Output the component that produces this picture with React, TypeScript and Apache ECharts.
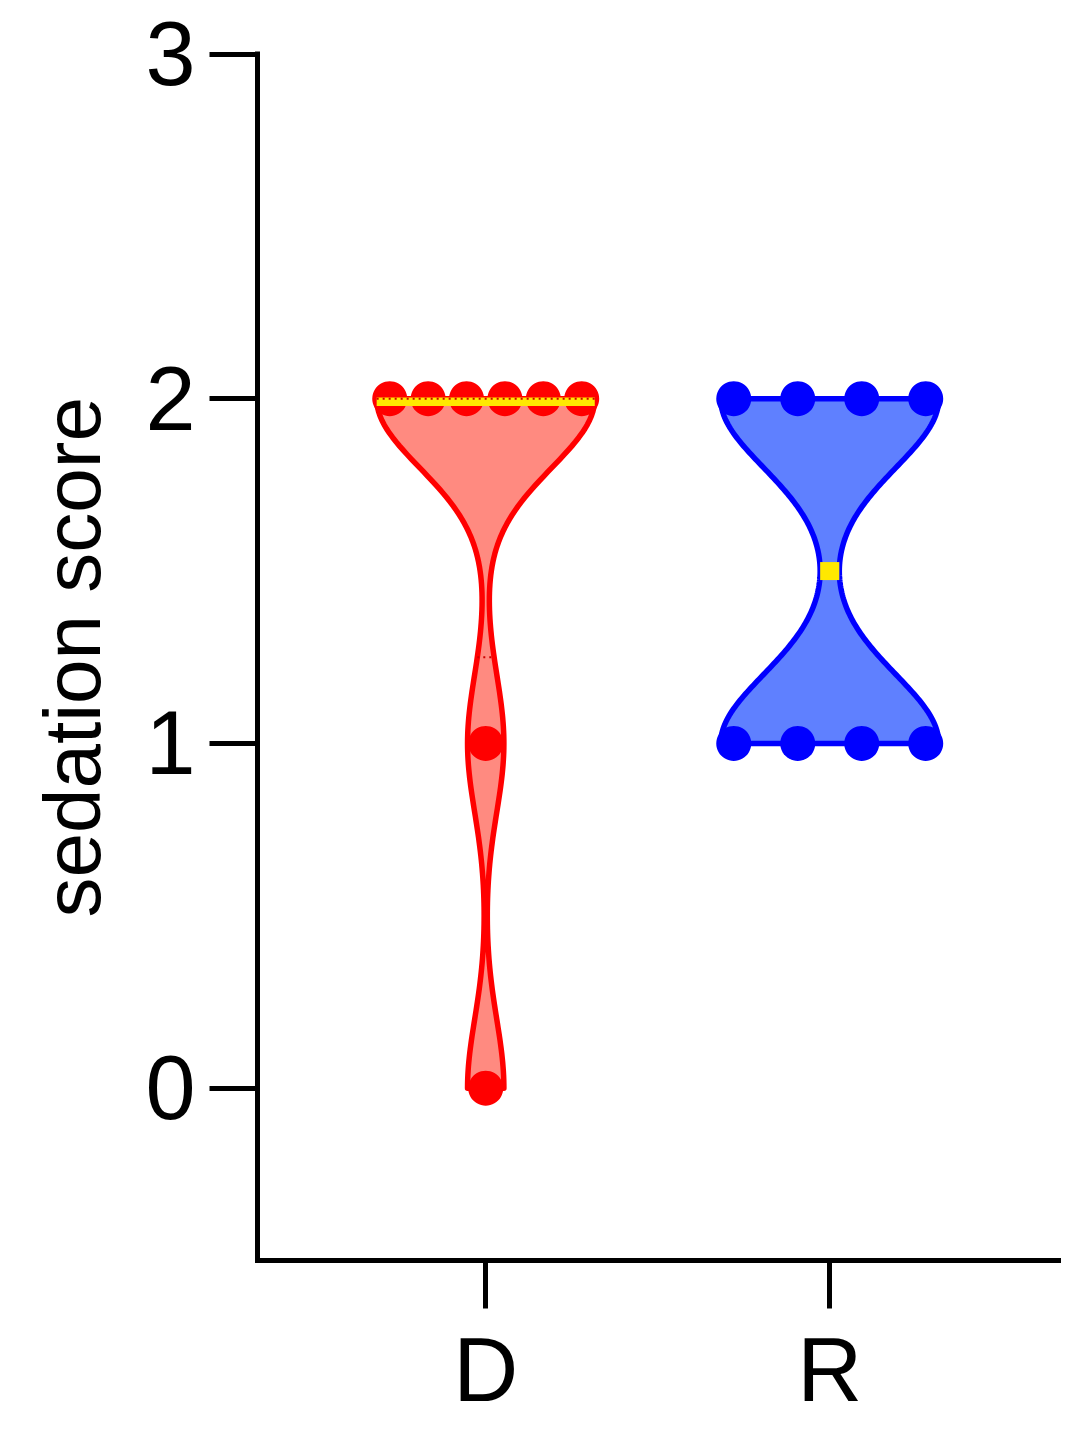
import React, { useEffect, useRef } from 'react';
import * as echarts from 'echarts';

// ---- data ----
const categories = ['D', 'R'];
const dScores = [2, 2, 2, 2, 2, 2, 1, 0];
const rScores = [2, 2, 2, 2, 1, 1, 1, 1];
const yTickValues = [0, 1, 2, 3];
const xTickValues = [0, 1];
const yAxisTitle = 'sedation score';

// ---- styling / layout ----
const groupStyles = [
  { line: '#FF0000', fill: '#FF8A80', quart: '#CC0000', point: '#FF0000', medianH: 8.5, medianShift: 3 },
  { line: '#0000FF', fill: '#5F80FF', quart: '#0000FF', point: '#0000FF', medianH: 18, medianShift: 0 },
];
const BANDWIDTH = 0.2;
const HALF_WIDTH = 0.317; // max violin half-width in x units
const SPREAD = 0.558; // scatter spread in x units
const FONT = 'Liberation Sans, Arial, Helvetica, sans-serif';

const groupValues = [dScores, rScores];

function density(values: number[], y: number): number {
  let s = 0;
  for (const v of values) s += Math.exp(-((y - v) * (y - v)) / (2 * BANDWIDTH * BANDWIDTH));
  return s;
}

function makeProfile(values: number[]) {
  const lo = Math.min(...values);
  const hi = Math.max(...values);
  const steps = 160;
  const ys: number[] = [];
  for (let i = 0; i <= steps; i++) ys.push(lo + ((hi - lo) * i) / steps);
  const ds = ys.map((y) => density(values, y));
  const maxD = Math.max(...ds);
  return { maxD, pts: ys.map((y, i) => [y, (ds[i] / maxD) * HALF_WIDTH]) };
}

function quantile(values: number[], p: number): number {
  const s = [...values].sort((a, b) => a - b);
  const pos = p * (s.length + 1);
  const lo = Math.floor(pos);
  const frac = pos - lo;
  const a = s[Math.max(0, Math.min(s.length - 1, lo - 1))];
  const b = s[Math.max(0, Math.min(s.length - 1, lo))];
  return a + frac * (b - a);
}

const profiles = groupValues.map(makeProfile);
const stats = groupValues.map((v) => ({
  q1: quantile(v, 0.25),
  med: quantile(v, 0.5),
  q3: quantile(v, 0.75),
}));

function halfWidthAt(g: number, y: number) {
  return (density(groupValues[g], y) / profiles[g].maxD) * HALF_WIDTH;
}

function scatterPoints(values: number[], g: number) {
  const counts: Record<string, number> = {};
  values.forEach((v) => (counts[v] = (counts[v] || 0) + 1));
  const seen: Record<string, number> = {};
  return values.map((v) => {
    const n = counts[v];
    const i = seen[v] || 0;
    seen[v] = i + 1;
    const off = n > 1 ? (i - (n - 1) / 2) * (SPREAD / (n - 1)) : 0;
    return [g + off, v];
  });
}

export default function App() {
  const ref = useRef<HTMLDivElement>(null);
  useEffect(() => {
    if (!ref.current) return;
    const chart = echarts.init(ref.current, undefined, { renderer: 'svg' });
    const option: any = {
      animation: false,
      backgroundColor: '#ffffff',
      grid: { left: 257.5, top: 54, right: 19.5, bottom: 168.5, containLabel: false },
      xAxis: {
        type: 'value',
        min: -0.6634,
        max: 1.665,
        splitLine: { show: false },
        axisLine: { show: true, onZero: false, lineStyle: { color: '#000', width: 5, cap: 'square' } },
        axisTick: { show: true, length: 48, customValues: xTickValues, lineStyle: { color: '#000', width: 5 } },
        axisLabel: {
          show: true,
          customValues: xTickValues,
          formatter: (v: number) => categories[Math.round(v)] ?? '',
          fontSize: 90,
          fontFamily: FONT,
          color: '#000',
          margin: 64,
        },
      },
      yAxis: {
        type: 'value',
        min: -0.5,
        max: 3,
        name: yAxisTitle,
        nameLocation: 'middle',
        nameGap: 145,
        nameRotate: 90,
        nameTextStyle: { fontSize: 80, fontFamily: FONT, color: '#000' },
        splitLine: { show: false },
        axisLine: { show: true, onZero: false, lineStyle: { color: '#000', width: 5, cap: 'square' } },
        axisTick: { show: true, length: 48, customValues: yTickValues, lineStyle: { color: '#000', width: 5 } },
        axisLabel: {
          show: true,
          customValues: yTickValues,
          fontSize: 90,
          fontFamily: FONT,
          color: '#000',
          margin: 62,
        },
      },
      series: [
        {
          type: 'custom',
          z: 1,
          data: categories.map((_, i) => [i, 0]),
          encode: { x: 0, y: 1 },
          clip: false,
          renderItem: (params: any, api: any) => {
            const g = params.dataIndex;
            const st = groupStyles[g];
            const pts = profiles[g].pts;
            const right = pts.map(([y, w]) => api.coord([g + w, y]));
            const left = pts
              .slice()
              .reverse()
              .map(([y, w]) => api.coord([g - w, y]));
            return {
              type: 'polygon',
              shape: { points: right.concat(left) },
              style: { fill: st.fill, stroke: st.line, lineWidth: 5.5, lineJoin: 'round' },
            };
          },
        },
        ...groupValues.map((vals, g) => ({
          type: 'scatter',
          z: 2,
          symbol: 'circle',
          symbolSize: 35,
          itemStyle: { color: groupStyles[g].point, opacity: 1 },
          data: scatterPoints(vals, g),
        })),
        {
          type: 'custom',
          z: 3,
          data: categories.map((_, i) => [i, 0]),
          encode: { x: 0, y: 1 },
          clip: false,
          renderItem: (params: any, api: any) => {
            const g = params.dataIndex;
            const st = groupStyles[g];
            const s = stats[g];
            const children: any[] = [];
            const hwm = halfWidthAt(g, s.med);
            const a = api.coord([g - hwm, s.med]);
            const b = api.coord([g + hwm, s.med]);
            children.push({
              type: 'rect',
              shape: {
                x: a[0],
                y: a[1] - st.medianH / 2 + st.medianShift,
                width: b[0] - a[0],
                height: st.medianH,
              },
              style: { fill: '#FFE800' },
            });
            [s.q1, s.q3].forEach((q) => {
              const hw = halfWidthAt(g, q);
              const p1 = api.coord([g - hw, q]);
              const p2 = api.coord([g + hw, q]);
              children.push({
                type: 'line',
                shape: { x1: p1[0], y1: p1[1], x2: p2[0], y2: p2[1] },
                style: { stroke: st.quart, lineWidth: 2, lineDash: [2, 4] },
              });
            });
            return { type: 'group', children };
          },
        },
      ],
    };
    chart.setOption(option);
    return () => chart.dispose();
  }, []);
  return (
    <div
      ref={ref}
      style={{ position: 'absolute', left: 0, top: 0, width: 1078, height: 1429, background: '#fff' }}
    />
  );
}
